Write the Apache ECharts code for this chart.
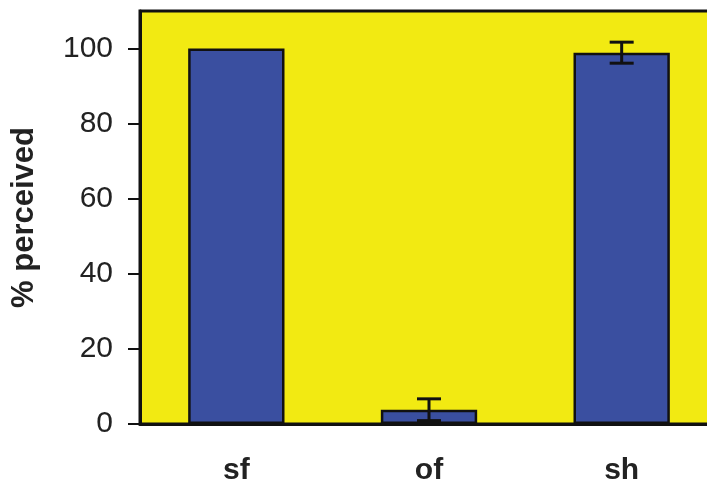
<!DOCTYPE html>
<html>
<head>
<meta charset="utf-8">
<script src="https://cdn.jsdelivr.net/npm/echarts@6/dist/echarts.min.js"></script>
<style>
  html, body { margin: 0; padding: 0; background: #ffffff; overflow: hidden; }
  /* the plot runs past the right edge of the page, so the frame's right side is cut off */
  #chart { width: 718px; height: 486px; }
</style>
</head>
<body>
<div id="chart"></div>
<script>
// Conditions and their mean percentage perceived, with error half-widths
const categories = ['sf', 'of', 'sh'];
const values = [100, 3.8, 98.9];
const errors = [0, 2.9, 2.8];
const yTicks = [0, 20, 40, 60, 80, 100];

const chart = echarts.init(document.getElementById('chart'));

const errorData = categories.map((c, i) => [i, values[i], errors[i]]);
const font = 'Liberation Sans, Arial, sans-serif';

chart.setOption({
  animation: false,
  grid: {
    left: 140, top: 11, right: 0, bottom: 60,
    show: true,
    backgroundColor: '#f2ea12',
    borderColor: '#111111',
    borderWidth: 3
  },
  xAxis: {
    type: 'category',
    data: categories,
    axisLine: { lineStyle: { color: '#111111', width: 3 } },
    axisTick: { show: false },
    axisLabel: {
      margin: 32,
      fontFamily: font,
      fontWeight: 'bold',
      fontSize: 30,
      color: '#222222'
    }
  },
  yAxis: {
    type: 'value',
    min: 0,
    max: 110,
    interval: 20,
    name: '% perceived',
    nameLocation: 'middle',
    nameGap: 100,
    nameTextStyle: {
      fontFamily: font,
      fontWeight: 'bold',
      fontSize: 31,
      color: '#222222'
    },
    splitLine: { show: false },
    axisLine: { show: true, lineStyle: { color: '#111111', width: 3 } },
    axisTick: {
      show: true, length: 12, customValues: yTicks,
      lineStyle: { color: '#111111', width: 2 }
    },
    axisLabel: {
      customValues: yTicks,
      margin: 27,
      fontFamily: font,
      fontSize: 30,
      color: '#222222'
    }
  },
  series: [
    {
      type: 'bar',
      data: values,
      barWidth: '50%',
      itemStyle: {
        color: '#3a4fa0',
        borderColor: '#111111',
        borderWidth: 2.5
      },
      z: 2
    },
    {
      type: 'custom',
      data: errorData,
      z: 3,
      renderItem: function (params, api) {
        const x = api.value(0);
        const v = api.value(1);
        const e = api.value(2);
        if (!e) return null;
        const hi = api.coord([x, v + e]);
        const lo = api.coord([x, v - e]);
        const cap = 12;
        const style = { stroke: '#111111', lineWidth: 3 };
        return {
          type: 'group',
          children: [
            { type: 'line', shape: { x1: hi[0], y1: hi[1], x2: lo[0], y2: lo[1] }, style: style },
            { type: 'line', shape: { x1: hi[0] - cap, y1: hi[1], x2: hi[0] + cap, y2: hi[1] }, style: style },
            { type: 'line', shape: { x1: lo[0] - cap, y1: lo[1], x2: lo[0] + cap, y2: lo[1] }, style: style }
          ]
        };
      }
    }
  ]
});
</script>
</body>
</html>
